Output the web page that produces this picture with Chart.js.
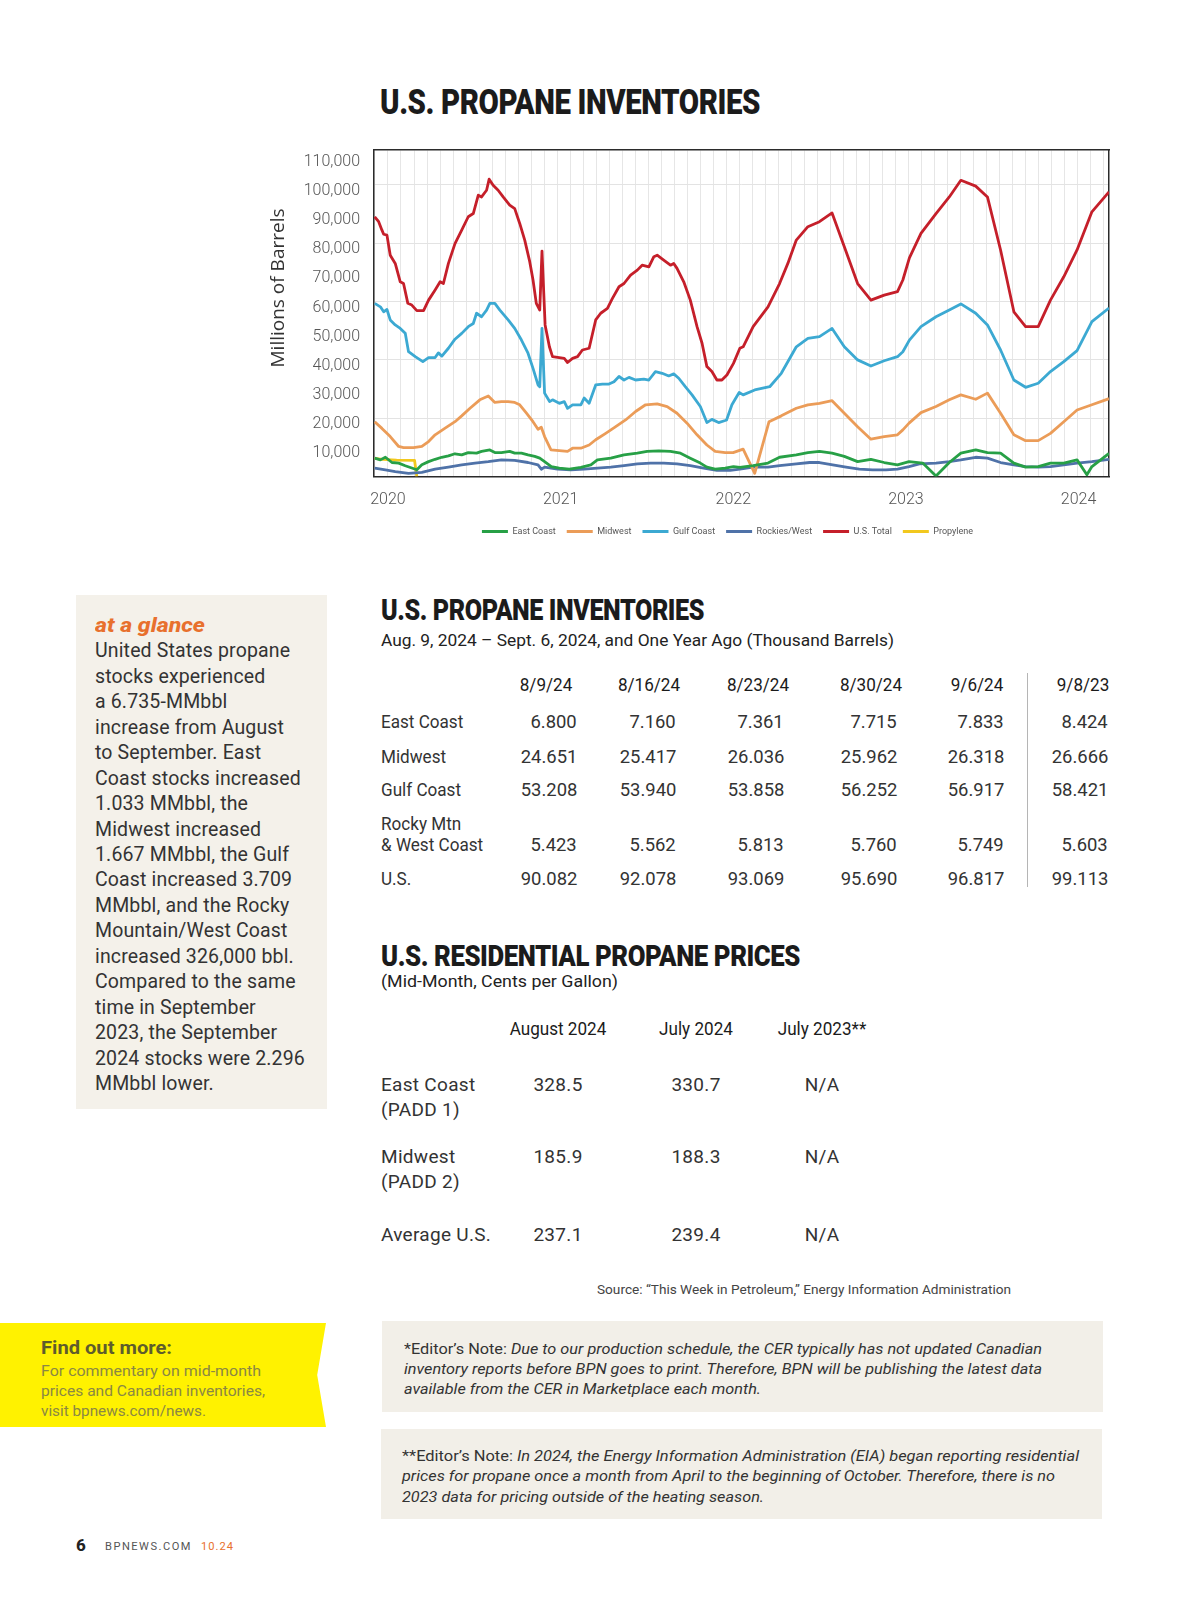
<!DOCTYPE html>
<html>
<head>
<meta charset="utf-8">
<title>U.S. Propane Inventories</title>
<script src="https://cdn.jsdelivr.net/npm/chart.js@4.4.1/dist/chart.umd.min.js"></script>
<style>
    body { margin: 0; background: #fff; }
    #page { position: relative; width: 1200px; height: 1598px; overflow: hidden; font-family: Roboto, "Liberation Sans", sans-serif; color: #333; }
    .t { position: absolute; line-height: 1; white-space: nowrap; }
    .box { position: absolute; }
    #chartBox { position: absolute; left: 250px; top: 135px; width: 955px; height: 411px; }
</style>
</head>
<body>
<div id="page">
    <div class="box" style="left:76px;top:595px;width:251px;height:514px;background:#f4f1ea;"></div>
    <div class="box" style="left:0;top:1323px;width:326px;height:104px;background:#fff200;clip-path:polygon(0 0,100% 0,97.3% 50%,100% 100%,0 100%);"></div>
    <div class="box" style="left:382px;top:1321px;width:721px;height:91px;background:#f2efe8;"></div>
    <div class="box" style="left:381px;top:1429px;width:721px;height:90px;background:#f2efe8;"></div>
    <div class="box" style="left:1027px;top:673px;width:1px;height:214px;background:#b5b5b5;"></div>
    <div id="chartBox"><canvas id="inventoryChart"></canvas></div>
</div>

<script>
// Weekly stocks, thousand barrels; first number is years after Jan 2020
const yearTicks = [2020, 2021, 2022, 2023, 2024];

const eastCoast = [
    [-0.077, 6300], [-0.044, 5700], [-0.015, 6600], [0.023, 4800], [0.062, 4600], [0.100, 3700],
    [0.138, 2900], [0.167, 2300], [0.196, 4000], [0.235, 5100], [0.273, 5900], [0.311, 6600],
    [0.350, 7100], [0.388, 7800], [0.427, 7400], [0.465, 8200], [0.513, 8000], [0.542, 8600],
    [0.590, 9100], [0.619, 8200], [0.657, 8200], [0.705, 8600], [0.734, 8000], [0.773, 8000],
    [0.811, 7400], [0.850, 6900], [0.879, 6300], [0.907, 5100], [0.946, 3400], [0.992, 2900],
    [1.050, 2500], [1.117, 3100], [1.175, 4000], [1.213, 5700], [1.290, 6300], [1.367, 7400],
    [1.444, 8000], [1.501, 8600], [1.569, 8800], [1.636, 8600], [1.694, 8000], [1.751, 6300],
    [1.809, 4600], [1.847, 3200], [1.895, 2500], [1.953, 2900], [2.001, 3400], [2.038, 3100],
    [2.115, 3700], [2.201, 4600], [2.268, 6600], [2.365, 7400], [2.432, 8200], [2.499, 8600],
    [2.572, 8000], [2.643, 6900], [2.720, 5100], [2.797, 5900], [2.874, 4800], [2.951, 4000],
    [3.018, 5100], [3.097, 4600], [3.174, 200], [3.251, 4800], [3.318, 8000], [3.404, 9100],
    [3.472, 8200], [3.548, 8000], [3.625, 4600], [3.693, 3200], [3.766, 3400], [3.837, 4600],
    [3.914, 4600], [3.991, 5700], [4.048, 600], [4.077, 3400], [4.176, 7900]
];

const midwest = [
    [-0.077, 18800], [-0.035, 16500], [0.013, 13700], [0.062, 10300], [0.090, 9900], [0.148, 9900],
    [0.196, 10300], [0.235, 12000], [0.273, 14300], [0.331, 16600], [0.388, 18800], [0.427, 20800],
    [0.475, 23400], [0.532, 26300], [0.581, 27600], [0.619, 25400], [0.657, 25700], [0.696, 25700],
    [0.734, 25400], [0.763, 24600], [0.802, 21700], [0.840, 18800], [0.869, 16200], [0.888, 16900],
    [0.907, 13700], [0.944, 9100], [0.992, 8900], [1.040, 8600], [1.069, 9700], [1.117, 9700],
    [1.165, 10800], [1.203, 12600], [1.261, 14800], [1.319, 17100], [1.376, 19400], [1.434, 22300],
    [1.492, 24600], [1.559, 24900], [1.617, 24000], [1.674, 21700], [1.732, 18300], [1.790, 14300],
    [1.847, 10800], [1.895, 8600], [1.953, 8200], [1.999, 8200], [2.057, 9400], [2.124, 1100],
    [2.207, 18800], [2.278, 20800], [2.365, 23400], [2.432, 24600], [2.499, 25100], [2.572, 26000],
    [2.643, 21700], [2.720, 17100], [2.797, 12800], [2.874, 13700], [2.951, 14300], [2.982, 16000],
    [3.018, 18300], [3.087, 21900], [3.174, 24000], [3.251, 26300], [3.318, 28000], [3.404, 26500],
    [3.472, 28600], [3.548, 21700], [3.625, 14300], [3.693, 12300], [3.766, 12300], [3.837, 14800],
    [3.914, 18800], [3.991, 22800], [4.077, 24600], [4.176, 26700]
];

const gulfCoast = [
    [-0.077, 59400], [-0.044, 58200], [-0.025, 56500], [-0.006, 57300], [0.013, 53700], [0.042, 52000],
    [0.071, 50800], [0.100, 49100], [0.119, 42800], [0.158, 41100], [0.202, 39400], [0.235, 40800],
    [0.273, 40800], [0.292, 42400], [0.312, 41300], [0.350, 44000], [0.388, 47100], [0.427, 49100],
    [0.465, 51400], [0.494, 52500], [0.513, 56000], [0.542, 54800], [0.571, 57100], [0.590, 59400],
    [0.619, 59400], [0.648, 57100], [0.696, 53700], [0.734, 50800], [0.773, 46800], [0.811, 42300],
    [0.840, 37100], [0.869, 31400], [0.879, 30800], [0.892, 50800], [0.907, 28600], [0.936, 25700],
    [0.953, 26300], [0.992, 25100], [1.021, 25700], [1.040, 23400], [1.069, 24600], [1.117, 24600],
    [1.136, 26900], [1.165, 25100], [1.203, 31400], [1.242, 31700], [1.280, 31700], [1.309, 32500],
    [1.338, 34300], [1.367, 33100], [1.396, 34000], [1.434, 33100], [1.482, 33400], [1.511, 33100],
    [1.549, 36000], [1.588, 35400], [1.626, 34500], [1.655, 35200], [1.684, 33700], [1.722, 30800],
    [1.761, 28000], [1.809, 24000], [1.847, 18500], [1.876, 19600], [1.915, 18500], [1.953, 19200],
    [1.961, 19400], [1.992, 24600], [2.009, 26300], [2.034, 28800], [2.057, 28000], [2.124, 29700],
    [2.211, 30800], [2.278, 35400], [2.365, 44500], [2.432, 47400], [2.499, 48000], [2.572, 50800],
    [2.643, 44500], [2.720, 40000], [2.797, 37900], [2.874, 39700], [2.951, 41100], [2.982, 42800],
    [3.020, 46800], [3.087, 51400], [3.174, 54800], [3.251, 57100], [3.318, 59200], [3.404, 56000],
    [3.472, 52000], [3.548, 43400], [3.625, 33100], [3.693, 30600], [3.766, 32000], [3.837, 36000],
    [3.914, 39400], [3.991, 43200], [4.077, 53100], [4.176, 57800]
];

const rockiesWest = [
    [-0.077, 2900], [-0.015, 2300], [0.042, 1700], [0.119, 1100], [0.196, 1400], [0.273, 2500],
    [0.350, 3200], [0.427, 4000], [0.504, 4600], [0.581, 5100], [0.657, 5700], [0.734, 5500],
    [0.811, 4800], [0.869, 4000], [0.888, 2500], [0.907, 3200], [0.982, 2500], [1.059, 2300],
    [1.136, 2500], [1.213, 2900], [1.290, 3200], [1.367, 3700], [1.444, 4300], [1.521, 4600],
    [1.597, 4600], [1.674, 4300], [1.751, 3700], [1.828, 2900], [1.905, 2100], [1.982, 2100],
    [2.038, 2500], [2.115, 3200], [2.201, 3200], [2.268, 3700], [2.365, 4300], [2.442, 4800],
    [2.499, 4800], [2.576, 4000], [2.653, 3200], [2.730, 2500], [2.807, 2300], [2.884, 2300],
    [2.951, 2500], [3.018, 3400], [3.078, 4300], [3.174, 4600], [3.251, 5100], [3.318, 5700],
    [3.404, 6600], [3.472, 6300], [3.548, 4800], [3.625, 4000], [3.693, 3400], [3.766, 3200],
    [3.837, 3400], [3.914, 4000], [3.991, 4600], [4.077, 5100], [4.176, 5900]
];

const usTotal = [
    [-0.077, 89100], [-0.054, 87400], [-0.035, 84500], [-0.025, 83100], [-0.006, 82800], [0.013, 75900],
    [0.042, 73100], [0.071, 66800], [0.090, 66200], [0.115, 59400], [0.138, 58800], [0.167, 56900],
    [0.206, 56900], [0.235, 60500], [0.273, 64000], [0.302, 66800], [0.321, 66200], [0.350, 73100],
    [0.388, 79900], [0.427, 84500], [0.465, 89100], [0.494, 90200], [0.523, 96500], [0.542, 95900],
    [0.571, 98200], [0.586, 102000], [0.609, 99900], [0.638, 98200], [0.667, 95900], [0.705, 93100],
    [0.734, 91900], [0.763, 86800], [0.792, 81100], [0.821, 73700], [0.840, 67400], [0.859, 59400],
    [0.879, 57100], [0.892, 77300], [0.910, 52000], [0.935, 44500], [0.953, 41100], [0.992, 40800],
    [1.021, 40500], [1.040, 39100], [1.069, 40500], [1.098, 41100], [1.126, 43400], [1.165, 44000],
    [1.203, 53700], [1.232, 56000], [1.271, 57700], [1.300, 61100], [1.338, 65100], [1.367, 66200],
    [1.405, 69100], [1.444, 70800], [1.472, 72500], [1.511, 71900], [1.540, 75400], [1.559, 75900],
    [1.597, 74200], [1.636, 72500], [1.655, 73100], [1.674, 71400], [1.713, 66800], [1.751, 60500],
    [1.790, 51400], [1.819, 45700], [1.847, 37700], [1.876, 36000], [1.905, 33100], [1.934, 33100],
    [1.963, 34800], [2.001, 38800], [2.038, 44000], [2.057, 44500], [2.115, 51400], [2.201, 58200],
    [2.268, 66200], [2.316, 73100], [2.365, 81100], [2.432, 85700], [2.499, 87400], [2.572, 90400],
    [2.643, 78800], [2.720, 66200], [2.797, 60500], [2.874, 62200], [2.951, 63400], [2.982, 67400],
    [3.020, 75000], [3.087, 83400], [3.174, 90200], [3.251, 95900], [3.318, 101600], [3.404, 99600],
    [3.472, 95900], [3.548, 77700], [3.625, 56500], [3.693, 51400], [3.766, 51400], [3.837, 60500],
    [3.914, 68500], [3.991, 77700], [4.077, 90800], [4.176, 97600]
];

const propylene = [[-0.077, 6200], [-0.030, 5900], [0.050, 5600], [0.154, 5500], [0.167, 0]];

// Table text
const invDates = ['8/9/24', '8/16/24', '8/23/24', '8/30/24', '9/6/24', '9/8/23'];
const invEast = ['6.800', '7.160', '7.361', '7.715', '7.833', '8.424'];
const invMidwest = ['24.651', '25.417', '26.036', '25.962', '26.318', '26.666'];
const invGulf = ['53.208', '53.940', '53.858', '56.252', '56.917', '58.421'];
const invRocky = ['5.423', '5.562', '5.813', '5.760', '5.749', '5.603'];
const invUS = ['90.082', '92.078', '93.069', '95.690', '96.817', '99.113'];

const priceCols = ['August 2024', 'July 2024', 'July 2023**'];
const priceEast = ['328.5', '330.7', 'N/A'];
const priceMidwest = ['185.9', '188.3', 'N/A'];
const priceAvg = ['237.1', '239.4', 'N/A'];

const glanceLines = [
    'United States propane', 'stocks experienced', 'a 6.735-MMbbl', 'increase from August',
    'to September. East', 'Coast stocks increased', '1.033 MMbbl, the', 'Midwest increased',
    '1.667 MMbbl, the Gulf', 'Coast increased 3.709', 'MMbbl, and the Rocky', 'Mountain/West Coast',
    'increased 326,000 bbl.', 'Compared to the same', 'time in September', '2023, the September',
    '2024 stocks were 2.296', 'MMbbl lower.'
];

const page = document.getElementById('page');

// Place one line of text; y is the visual centre of the line
function put(html, o) {
    const el = document.createElement('div');
    el.className = 't';
    el.innerHTML = html;
    const s = el.style;
    s.fontSize = o.size + 'px';
    s.top = (o.y + 2.5 - o.size * 0.52) + 'px';
    if (o.weight) s.fontWeight = o.weight;
    if (o.italic) s.fontStyle = 'italic';
    s.color = o.color || '#333';
    if (o.family) s.fontFamily = o.family;
    if (o.spacing) s.letterSpacing = o.spacing + 'px';
    const align = o.align || 'left';
    if (align === 'right') {
        s.right = (1200 - o.x) + 'px';
        s.transformOrigin = 'right center';
    } else {
        s.left = o.x + 'px';
        s.transformOrigin = align === 'center' ? 'center center' : 'left center';
    }
    page.appendChild(el);
    let sx = o.sx || 1;
    if (o.fit) sx = o.fit / el.getBoundingClientRect().width;
    s.transform = (align === 'center' ? 'translateX(-50%) ' : '') + 'scaleX(' + sx + ')';
    return el;
}

function drawText() {
    const head = { weight: 900, color: '#1b1b1b', spacing: -0.5 };

    // Titles
    put('U.S. PROPANE INVENTORIES', Object.assign({ x: 380, y: 101, size: 35, fit: 380 }, head));
    put('U.S. PROPANE INVENTORIES', Object.assign({ x: 381, y: 608, size: 30, fit: 323 }, head));
    put('Aug. 9, 2024 – Sept. 6, 2024, and One Year Ago (Thousand Barrels)',
        { x: 381, y: 639, size: 16.5, fit: 513, color: '#222' });

    // Inventory table
    const colRight = [577, 676, 784, 897, 1004, 1108];
    const colHead = [546, 649, 758, 871, 977, 1083];
    invDates.forEach((d, i) => put(d, { x: colHead[i], y: 682, size: 19, align: 'center', sx: 0.9, color: '#1b1b1b' }));
    const invRows = [
        ['East Coast', invEast, 719],
        ['Midwest', invMidwest, 754],
        ['Gulf Coast', invGulf, 787],
        ['&amp; West Coast', invRocky, 842],
        ['U.S.', invUS, 876]
    ];
    put('Rocky Mtn', { x: 381, y: 821, size: 19, sx: 0.9 });
    invRows.forEach(([label, vals, y]) => {
        put(label, { x: 381, y: y, size: 19, sx: 0.9 });
        vals.forEach((v, i) => put(v, { x: colRight[i], y: y, size: 19, align: 'right', sx: 0.97 }));
    });

    // Price table
    put('U.S. RESIDENTIAL PROPANE PRICES', Object.assign({ x: 381, y: 954, size: 30, fit: 419 }, head));
    put('(Mid-Month, Cents per Gallon)', { x: 381, y: 980, size: 16.5, fit: 237, color: '#222' });
    const priceCenter = [558, 696, 822];
    priceCols.forEach((c, i) => put(c, { x: priceCenter[i], y: 1026, size: 19, align: 'center', sx: 0.9, color: '#1b1b1b' }));
    const priceRows = [
        ['East Coast', '(PADD 1)', priceEast, 1082],
        ['Midwest', '(PADD 2)', priceMidwest, 1154],
        ['Average U.S.', '', priceAvg, 1232]
    ];
    priceRows.forEach(([label, sub, vals, y]) => {
        put(label, { x: 381, y: y, size: 19, spacing: 0.3 });
        if (sub) put(sub, { x: 381, y: y + 25, size: 19, spacing: 0.3 });
        vals.forEach((v, i) => put(v, { x: priceCenter[i], y: y, size: 19, align: 'center', spacing: 0.3 }));
    });

    put('Source: “This Week in Petroleum,” Energy Information Administration',
        { x: 597, y: 1287, size: 13, fit: 414, color: '#444' });

    // Editor's notes
    const noteA = [
        '<span style="font-style:normal">*Editor’s Note:</span> Due to our production schedule, the CER typically has not updated Canadian',
        'inventory reports before BPN goes to print. Therefore, BPN will be publishing the latest data',
        'available from the CER in Marketplace each month.'
    ];
    [638, 638, 357].forEach((w, i) => put(noteA[i], { x: 404, y: 1347 + i * 20, size: 15, italic: true, fit: w }));
    const noteB = [
        '<span style="font-style:normal">**Editor’s Note:</span> In 2024, the Energy Information Administration (EIA) began reporting residential',
        'prices for propane once a month from April to the beginning of October. Therefore, there is no',
        '2023 data for pricing outside of the heating season.'
    ];
    [677, 653, 362].forEach((w, i) => put(noteB[i], { x: 402, y: 1454 + i * 20.5, size: 15, italic: true, fit: w }));

    // Sidebar
    put('at a glance', { x: 95, y: 623, size: 21, weight: 800, italic: true, color: '#e8702d', fit: 110 });
    glanceLines.forEach((line, i) => put(line, { x: 95, y: 649 + i * 25.45, size: 19.5, spacing: 0.15 }));

    // Find out more
    put('Find out more:', { x: 41, y: 1345, size: 19, weight: 700, color: '#5e5c2c', fit: 131 });
    const moreLines = ['For commentary on mid-month', 'prices and Canadian inventories,', 'visit bpnews.com/news.'];
    [220, 224, 165].forEach((w, i) => put(moreLines[i], { x: 41, y: 1369.5 + i * 20, size: 15.5, color: '#8a8744', fit: w }));

    // Footer
    put('6', { x: 76, y: 1543, size: 17, weight: 800, color: '#222' });
    put('BPNEWS.COM', { x: 105, y: 1544, size: 11, spacing: 1.5, color: '#555', fit: 87 });
    put('10.24', { x: 201, y: 1544, size: 11, spacing: 1, color: '#e8702d', fit: 33 });
}

// Rotated y-axis caption, placed like the original (above the axis centre)
const axisCaption = {
    id: 'axisCaption',
    afterDraw(chart) {
        const ctx = chart.ctx;
        ctx.save();
        ctx.translate(29, 153);
        ctx.rotate(-Math.PI / 2);
        ctx.font = '19px "Open Sans", Roboto, sans-serif';
        ctx.fillStyle = '#333';
        ctx.textAlign = 'center';
        ctx.textBaseline = 'middle';
        ctx.fillText('Millions of Barrels', 0, 0);
        ctx.restore();
    }
};

function toPoints(arr) {
    return arr.map(([t, v]) => ({ x: 2020 + t, y: v }));
}

// Drop the extra room Chart.js reserves for edge tick labels
function noEdgePadding(scale) {
    scale.paddingTop = 0;
    scale.paddingBottom = 0;
    scale.paddingLeft = 0;
    scale.paddingRight = 0;
}

function createInventoryChart() {
    const xMin = 2019.919;
    const xMax = 2024.176;
    const gridStep = 0.07537;
    const tickFont = { family: 'Roboto', size: 16, weight: 300 };
    const frame = { display: true, color: '#2b2b2b', width: 1.5 };

    const series = [
        ['East Coast', eastCoast, '#27a046'],
        ['Midwest', midwest, '#eb9c58'],
        ['Gulf Coast', gulfCoast, '#3ca9d2'],
        ['Rockies/West', rockiesWest, '#4f72a8'],
        ['U.S. Total', usTotal, '#c51f2a'],
        ['Propylene', propylene, '#f2c81e']
    ];

    const ctx = document.getElementById('inventoryChart').getContext('2d');
    new Chart(ctx, {
        type: 'line',
        data: {
            datasets: series.map(([label, values, color]) => ({
                label: label,
                data: toPoints(values),
                borderColor: color,
                backgroundColor: color,
                borderWidth: 2.8,
                pointRadius: 0,
                tension: 0,
                fill: false,
                borderJoinStyle: 'round'
            }))
        },
        options: {
            responsive: true,
            maintainAspectRatio: false,
            animation: false,
            layout: { padding: { top: 15, right: 0, bottom: 0, left: 0 } },
            plugins: {
                tooltip: { enabled: false },
                legend: {
                    position: 'bottom',
                    labels: {
                        boxWidth: 26,
                        boxHeight: 3,
                        padding: 11,
                        color: '#555',
                        font: { family: 'Roboto', size: 9 },
                        generateLabels: function(chart) {
                            const items = Chart.defaults.plugins.legend.labels.generateLabels(chart);
                            items.forEach(item => {
                                item.lineWidth = 0;
                                item.fillStyle = item.strokeStyle;
                            });
                            return items;
                        }
                    }
                }
            },
            scales: {
                x: {
                    type: 'linear',
                    position: 'bottom',
                    min: xMin,
                    max: xMax,
                    grid: { display: false },
                    border: frame,
                    ticks: {
                        font: tickFont,
                        color: '#555',
                        padding: 6,
                        maxRotation: 0,
                        autoSkip: false,
                        callback: value => String(value)
                    },
                    afterBuildTicks: scale => { scale.ticks = yearTicks.map(v => ({ value: v })); },
                    afterFit: scale => { scale.height = 39.5; noEdgePadding(scale); }
                },
                x2: {
                    type: 'linear',
                    position: 'top',
                    min: xMin,
                    max: xMax,
                    grid: { color: '#e6e6e6', lineWidth: 1, drawTicks: false },
                    border: frame,
                    ticks: { display: false },
                    afterBuildTicks: scale => {
                        const ticks = [];
                        for (let k = -1; k <= 55; k++) ticks.push({ value: 2020 + k * gridStep });
                        scale.ticks = ticks;
                    },
                    afterFit: scale => { scale.height = 0; noEdgePadding(scale); }
                },
                y: {
                    min: 0,
                    max: 112000,
                    grid: {
                        drawTicks: false,
                        color: c => (c.tick && c.tick.value > 0 && c.tick.value % 20000 === 0) ? '#e3e3e3' : 'rgba(0,0,0,0)'
                    },
                    border: frame,
                    ticks: {
                        font: tickFont,
                        color: '#555',
                        padding: 14,
                        labelOffset: 6,
                        callback: value => value === 0 ? '' : value.toLocaleString('en-US')
                    },
                    afterBuildTicks: scale => {
                        const ticks = [];
                        for (let v = 0; v <= 110000; v += 10000) ticks.push({ value: v });
                        scale.ticks = ticks;
                    },
                    afterFit: scale => { scale.width = 124; noEdgePadding(scale); }
                },
                y2: {
                    position: 'right',
                    grid: { display: false },
                    border: frame,
                    ticks: { display: false },
                    afterFit: scale => { scale.width = 96; noEdgePadding(scale); }
                }
            }
        },
        plugins: [axisCaption]
    });
}

drawText();
createInventoryChart();
</script>
</body>
</html>
